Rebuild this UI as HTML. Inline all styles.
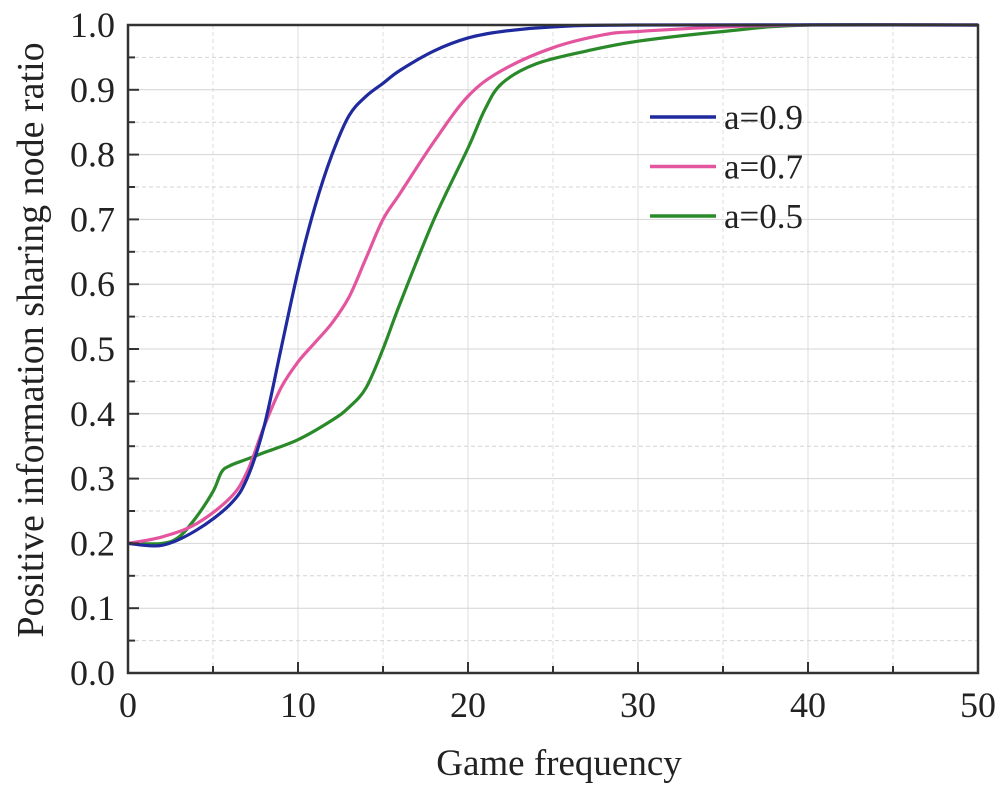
<!DOCTYPE html>
<html><head><meta charset="utf-8"><style>
body{margin:0;background:#fff}
svg{display:block;font-family:"Liberation Serif",serif;fill:#222}
</style></head><body>
<svg id="chart" width="1002" height="789">
<g id="grid"></g>
<g id="series"></g>
<g id="axes"></g>
<text x="559" y="775" font-size="37" text-anchor="middle">Game frequency</text>
<text transform="translate(43,340) rotate(-90)" font-size="38" text-anchor="middle">Positive information sharing node ratio</text>
<g id="legend"></g>
</svg>
<script>
const seriesNames=["a=0.9","a=0.7","a=0.5"];
const seriesColors=["#1f2a9e","#e4559f","#2a8a2a"];
const blueX=[0,2,4,6,7,8,9,10,11,12,13,14,15,16,18,20,22,25,30,50];
const blueY=[0.2,0.197,0.22,0.26,0.30,0.38,0.50,0.62,0.72,0.80,0.86,0.89,0.91,0.93,0.96,0.98,0.99,0.997,1.0,1.0];
const pinkX=[0,2,4,6,7,8,9,10,11,12,13,14,15,16,18,20,22,25,28,30,35,40,50];
const pinkY=[0.2,0.21,0.23,0.27,0.31,0.38,0.44,0.48,0.51,0.54,0.58,0.64,0.70,0.74,0.82,0.89,0.93,0.965,0.985,0.99,0.997,1.0,1.0];
const greenX=[0,2,3,4,5,5.5,6,7,8,10,12,13,14,15,16,18,20,21,22,24,27,30,35,40,50];
const greenY=[0.2,0.2,0.21,0.24,0.28,0.31,0.32,0.33,0.34,0.36,0.39,0.41,0.44,0.50,0.57,0.70,0.81,0.87,0.91,0.94,0.96,0.975,0.99,1.0,1.0];
const xTicks=[0,10,20,30,40,50];
const yTicks=[0,0.1,0.2,0.3,0.4,0.5,0.6,0.7,0.8,0.9,1.0];
const NS="http://www.w3.org/2000/svg";
const X0=128,X1=978,Y0=673,Y1=25;
const sx=v=>X0+(v/50)*(X1-X0);
const sy=v=>Y0-v*(Y0-Y1);
function mk(tag,attrs,parent){const e=document.createElementNS(NS,tag);for(const k in attrs)e.setAttribute(k,attrs[k]);parent.appendChild(e);return e;}
const grid=document.getElementById('grid'),axes=document.getElementById('axes'),ser=document.getElementById('series'),leg=document.getElementById('legend');
for(let i=1;i<10;i++){const x=sx(i*5);const l=mk('line',{x1:x,x2:x,y1:Y1,y2:Y0,stroke:'#ddd','stroke-width':1,'stroke-dasharray':i%2?'4 3':''},grid);

}
for(let i=1;i<20;i++){const y=sy(i*0.05);const l=mk('line',{x1:X0,x2:X1,y1:y,y2:y,stroke:'#d4d4d4','stroke-width':1,'stroke-dasharray':i%2?'4 3':''},grid);

}
const frame=mk('rect',{x:X0,y:Y1,width:X1-X0,height:Y0-Y1,fill:'none',stroke:'#333','stroke-width':2.5},axes);


for(let i=0;i<=10;i++){const x=sx(i*5);mk('line',{x1:x,x2:x,y1:Y0,y2:Y0-(i%2?7:11),stroke:'#333','stroke-width':2},axes);}
xTicks.forEach(v=>{const t=mk('text',{x:sx(v),y:Y0+44,'font-size':36,'text-anchor':'middle'},axes);t.textContent=v;

});
for(let i=0;i<=20;i++){const y=sy(i*0.05);mk('line',{x1:X0,x2:X0+(i%2?7:11),y1:y,y2:y,stroke:'#333','stroke-width':2},axes);}
yTicks.forEach(v=>{const t=mk('text',{x:X0-13,y:sy(v)+12,'font-size':36,'text-anchor':'end'},axes);t.textContent=v.toFixed(1);

});
function path(xs,ys){const p=xs.map((x,i)=>[sx(x),sy(ys[i])]);let d=`M${p[0][0]},${p[0][1]}`;
for(let i=0;i<p.length-1;i++){const a=p[i-1]||p[i],b=p[i],c=p[i+1],e=p[i+2]||c;
d+=` C${b[0]+(c[0]-a[0])/6},${b[1]+(c[1]-a[1])/6} ${c[0]-(e[0]-b[0])/6},${c[1]-(e[1]-b[1])/6} ${c[0]},${c[1]}`;}return d;}
const data=[[greenX,greenY],[pinkX,pinkY],[blueX,blueY]];
const idx=[2,1,0];
data.forEach((s,k)=>{const i=idx[k];const el=mk('path',{d:path(s[0],s[1]),fill:'none',stroke:seriesColors[i],'stroke-width':3.2},ser);

});
seriesNames.forEach((n,i)=>{const y=117+i*49.5;
const l=mk('line',{x1:650,x2:716,y1:y,y2:y,stroke:seriesColors[i],'stroke-width':3.5},leg);


const t=mk('text',{x:724,y:y+12,'font-size':35},leg);t.textContent=n;

});
</script>
</body></html>
